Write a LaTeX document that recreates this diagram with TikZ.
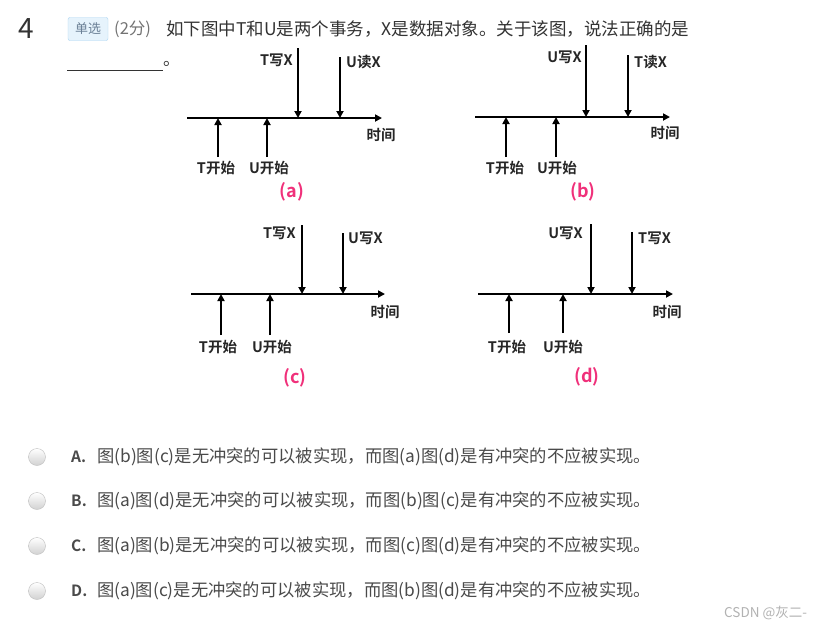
\documentclass[tikz,border=0pt]{standalone}
\usepackage{fontspec}
\setmainfont{Noto Sans CJK SC}
\newfontfamily\cjkb{Noto Sans CJK SC Bold}
\usetikzlibrary{arrows.meta}
\definecolor{txt}{HTML}{333333}
\definecolor{opt}{HTML}{4A4A4A}
\definecolor{pink}{HTML}{F0307A}
\definecolor{badgefill}{HTML}{E6F3FC}
\definecolor{badgeline}{HTML}{A9D4F2}
\definecolor{badgetxt}{HTML}{6A7F95}
\tikzset{
  lbl/.style={font=\cjkb\fontsize{14.5}{14.5}\selectfont, text=black!85, inner sep=0pt},
  capt/.style={font=\cjkb\fontsize{18}{18}\selectfont, text=pink, inner sep=0pt},
  axisline/.style={line width=2.5pt, -{Triangle[width=7pt,length=7pt]}},
  evt/.style={line width=2.5pt, -{Triangle[width=7pt,length=7pt]}},
  radio/.style={circle, minimum size=17pt, inner sep=0pt, draw=black!25, top color=white, bottom color=black!18},
  optlbl/.style={font=\cjkb\fontsize{15.5}{15.5}\selectfont, text=opt, inner sep=0pt, anchor=west},
  opttext/.style={font=\fontsize{17.3}{17.3}\selectfont, text=opt, inner sep=0pt, anchor=west},
}
\begin{document}
\begin{tikzpicture}[x=1pt,y=-1pt]
\useasboundingbox (0,0) rectangle (825,630);
\fill[white] (0,0) rectangle (825,630);
% header
\node[font=\fontsize{28}{28}\selectfont, text=txt, inner sep=0pt] (num) at (26,29) {4};
\node[draw=badgeline, fill=badgefill, rounded corners=2pt, minimum width=40pt, minimum height=23pt, inner sep=0pt, font=\fontsize{13}{13}\selectfont, text=badgetxt] (badge) at (88,29) {单选};
\node[font=\fontsize{16.5}{16.5}\selectfont, text=black!55, inner sep=0pt, anchor=west] (score) at (114,29) {(2分)};
\node[font=\fontsize{17.5}{17.5}\selectfont, text=txt, inner sep=0pt, anchor=west] (q) at (166,29) {如下图中T和U是两个事务，X是数据对象。关于该图，说法正确的是};
\coordinate (ul1) at (67,70);
\coordinate (ul2) at (163,70);
\draw[line width=1pt, txt] (ul1) -- (ul2);
\node[font=\fontsize{17}{17}\selectfont, text=txt, inner sep=0pt, anchor=west] (dot) at (163,64) {。};

% ---------- panel (a)
\coordinate (a0) at (187,118); \coordinate (a1) at (382,118);
\draw[axisline] (a0) -- (a1);
\coordinate (aTs) at (218,157); \coordinate (aTe) at (218,118);
\coordinate (aUs) at (267,157); \coordinate (aUe) at (267,118);
\coordinate (aWs) at (298,48);  \coordinate (aWe) at (298,118);
\coordinate (aRs) at (340,57);  \coordinate (aRe) at (340,118);
\draw[evt] (aTs) -- (aTe); \draw[evt] (aUs) -- (aUe);
\draw[evt] (aWs) -- (aWe); \draw[evt] (aRs) -- (aRe);
\node[lbl, anchor=east] (aW) at (293,60) {T写X};
\node[lbl, anchor=west] (aR) at (346,62) {U读X};
\node[lbl] (aTime) at (381,135) {时间};
\node[lbl] (aT) at (216,168) {T开始};
\node[lbl] (aU) at (269,168) {U开始};
\node[capt] (aCap) at (292,192) {(a)};

% ---------- panel (b)
\coordinate (b0) at (475,117); \coordinate (b1) at (670,117);
\draw[axisline] (b0) -- (b1);
\coordinate (bTs) at (506,157); \coordinate (bTe) at (506,117);
\coordinate (bUs) at (556,157); \coordinate (bUe) at (556,117);
\coordinate (bWs) at (586,45);  \coordinate (bWe) at (586,117);
\coordinate (bRs) at (628,55);  \coordinate (bRe) at (628,117);
\draw[evt] (bTs) -- (bTe); \draw[evt] (bUs) -- (bUe);
\draw[evt] (bWs) -- (bWe); \draw[evt] (bRs) -- (bRe);
\node[lbl, anchor=east] (bW) at (582,57) {U写X};
\node[lbl, anchor=west] (bR) at (634,62) {T读X};
\node[lbl] (bTime) at (665,133) {时间};
\node[lbl] (bT) at (505,168) {T开始};
\node[lbl] (bU) at (557,168) {U开始};
\node[capt] (bCap) at (583,192) {(b)};

% ---------- panel (c)
\coordinate (c0) at (191,294); \coordinate (c1) at (385,294);
\draw[axisline] (c0) -- (c1);
\coordinate (cTs) at (221,335); \coordinate (cTe) at (221,294);
\coordinate (cUs) at (270,335); \coordinate (cUe) at (270,294);
\coordinate (cWs) at (302,225); \coordinate (cWe) at (302,294);
\coordinate (cRs) at (343,233); \coordinate (cRe) at (343,294);
\draw[evt] (cTs) -- (cTe); \draw[evt] (cUs) -- (cUe);
\draw[evt] (cWs) -- (cWe); \draw[evt] (cRs) -- (cRe);
\node[lbl, anchor=east] (cW) at (296,233) {T写X};
\node[lbl, anchor=west] (cR) at (348,238) {U写X};
\node[lbl] (cTime) at (385,312) {时间};
\node[lbl] (cT) at (218,347) {T开始};
\node[lbl] (cU) at (272,347) {U开始};
\node[capt] (cCap) at (295,378) {(c)};

% ---------- panel (d)
\coordinate (d0) at (478,294); \coordinate (d1) at (673,294);
\draw[axisline] (d0) -- (d1);
\coordinate (dTs) at (509,333); \coordinate (dTe) at (509,294);
\coordinate (dUs) at (563,333); \coordinate (dUe) at (563,294);
\coordinate (dWs) at (591,224); \coordinate (dWe) at (591,294);
\coordinate (dRs) at (632,232); \coordinate (dRe) at (632,294);
\draw[evt] (dTs) -- (dTe); \draw[evt] (dUs) -- (dUe);
\draw[evt] (dWs) -- (dWe); \draw[evt] (dRs) -- (dRe);
\node[lbl, anchor=east] (dW) at (583,233) {U写X};
\node[lbl, anchor=west] (dR) at (638,238) {T写X};
\node[lbl] (dTime) at (667,312) {时间};
\node[lbl] (dT) at (507,347) {T开始};
\node[lbl] (dU) at (563,347) {U开始};
\node[capt] (dCap) at (587,377) {(d)};

% ---------- options
\node[radio] (rA) at (37,457) {};
\node[optlbl] (lA) at (71,457) {A.};
\node[opttext] (tA) at (97,457) {图(b)图(c)是无冲突的可以被实现，而图(a)图(d)是有冲突的不应被实现。};
\node[radio] (rB) at (37,501) {};
\node[optlbl] (lB) at (71,501) {B.};
\node[opttext] (tB) at (97,501) {图(a)图(d)是无冲突的可以被实现，而图(b)图(c)是有冲突的不应被实现。};
\node[radio] (rC) at (37,546) {};
\node[optlbl] (lC) at (71,546) {C.};
\node[opttext] (tC) at (97,546) {图(a)图(b)是无冲突的可以被实现，而图(c)图(d)是有冲突的不应被实现。};
\node[radio] (rD) at (37,591) {};
\node[optlbl] (lD) at (71,591) {D.};
\node[opttext] (tD) at (97,591) {图(a)图(c)是无冲突的可以被实现，而图(b)图(d)是有冲突的不应被实现。};

\node[font=\fontsize{13.5}{13.5}\selectfont, text=black!30, inner sep=0pt, anchor=west] (wm) at (724,613) {CSDN @灰二-};
\end{tikzpicture}
\end{document}
